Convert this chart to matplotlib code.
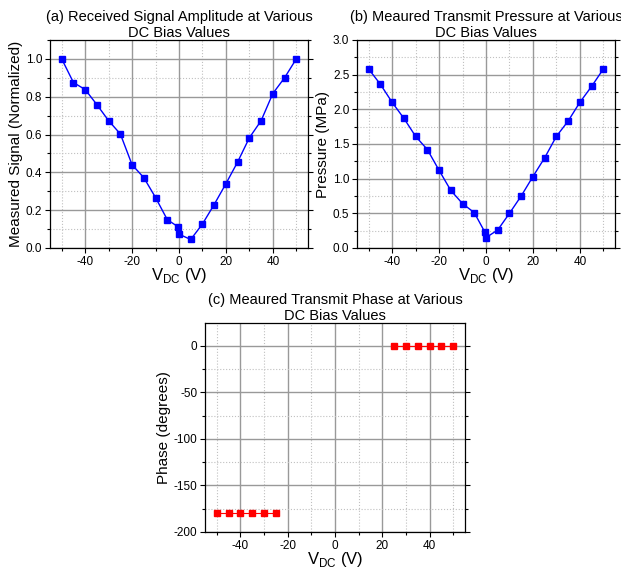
import numpy as np
import matplotlib
matplotlib.use('Agg')
import matplotlib.pyplot as plt
from matplotlib.ticker import MultipleLocator

plt.rcParams['font.family'] = ['Liberation Sans', 'DejaVu Sans']
plt.rcParams['mathtext.fontset'] = 'custom'
plt.rcParams['mathtext.rm'] = 'Liberation Sans'
plt.rcParams['axes.unicode_minus'] = False

# bias voltages (two readings at 0 V)
vdc = [-50, -45, -40, -35, -30, -25, -20, -15, -10, -5, -0.5, 0,
       5, 10, 15, 20, 25, 30, 35, 40, 45, 50]
signal = [1.0, 0.875, 0.838, 0.758, 0.673, 0.603, 0.44, 0.372, 0.267, 0.15, 0.113, 0.073,
          0.045, 0.127, 0.23, 0.34, 0.455, 0.583, 0.673, 0.817, 0.9, 1.0]
pressure = [2.58, 2.36, 2.1, 1.87, 1.61, 1.42, 1.12, 0.83, 0.64, 0.51, 0.23, 0.15,
            0.26, 0.5, 0.75, 1.03, 1.3, 1.61, 1.83, 2.1, 2.33, 2.58]

vdc_neg = [-50, -45, -40, -35, -30, -25]
phase_neg = [-180, -180, -180, -180, -180, -180]
vdc_pos = [25, 30, 35, 40, 45, 50]
phase_pos = [0, 0, 0, 0, 0, 0]

W, H = 621, 571


def make_axes(fig, left, top, right, bottom):
    return fig.add_axes([left / W, (H - bottom) / H, (right - left) / W, (bottom - top) / H])


def style(ax, ymajor, yminor):
    ax.set_xlim(-55, 55)
    ax.xaxis.set_major_locator(MultipleLocator(20))
    ax.xaxis.set_minor_locator(MultipleLocator(10))
    ax.yaxis.set_major_locator(MultipleLocator(ymajor))
    ax.yaxis.set_minor_locator(MultipleLocator(yminor))
    ax.grid(which='major', color='#999999', lw=1.0)
    ax.grid(which='minor', color='#c0c0c0', lw=0.8, ls=':')
    ax.set_axisbelow(True)
    ax.tick_params(which='both', direction='out', labelsize=8.5, width=0.8,
                   right=True, top=False, pad=2)
    ax.tick_params(which='major', length=3.5)
    ax.tick_params(which='minor', length=2.5)
    for s in ax.spines.values():
        s.set_linewidth(0.9)
    ax.set_xlabel(r'V$_{\mathrm{DC}}$ (V)', fontsize=12, labelpad=-1)


def title(ax, text):
    ax.set_title(text, fontsize=10.5, pad=1.5, linespacing=1.15)


fig = plt.figure(figsize=(6.21, 5.71), dpi=100)

ax1 = make_axes(fig, 50, 40, 308, 248)
ax1.plot(vdc, signal, color='#0000ff', lw=1, marker='s', ms=4.5)
ax1.set_ylim(0, 1.1)
style(ax1, 0.2, 0.1)
ax1.set_ylabel('Measured Signal (Normalized)', fontsize=11, labelpad=2)
title(ax1, '(a) Received Signal Amplitude at Various\nDC Bias Values')

ax2 = make_axes(fig, 357, 40, 615, 248)
ax2.plot(vdc, pressure, color='#0000ff', lw=1, marker='s', ms=4.5)
ax2.set_ylim(0, 3.0)
style(ax2, 0.5, 0.25)
ax2.set_ylabel('Pressure (MPa)', fontsize=11, labelpad=2)
title(ax2, '(b) Meaured Transmit Pressure at Various\nDC Bias Values')

ax3 = make_axes(fig, 205, 323, 465, 532)
ax3.plot(vdc_neg, phase_neg, color='#ff0000', lw=0.8, marker='s', ms=4.5)
ax3.plot(vdc_pos, phase_pos, color='#ff0000', lw=0.8, marker='s', ms=4.5)
ax3.set_ylim(-200, 24.5)
style(ax3, 50, 25)
ax3.set_ylabel('Phase (degrees)', fontsize=11, labelpad=2)
title(ax3, '(c) Meaured Transmit Phase at Various\nDC Bias Values')

fig.savefig('out.png', dpi=100)
